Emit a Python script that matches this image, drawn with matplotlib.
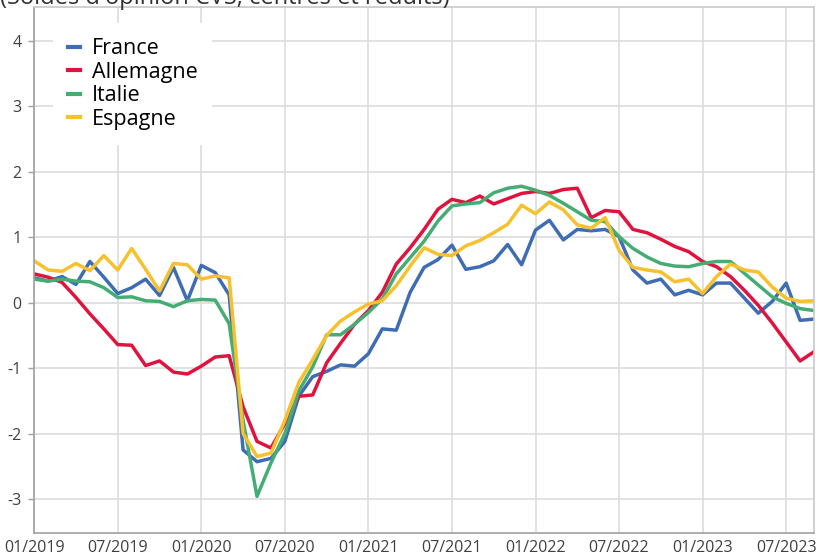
import numpy as np
import matplotlib.pyplot as plt

plt.rcParams['font.family'] = ['Open Sans', 'DejaVu Sans']
plt.rcParams['axes.unicode_minus'] = False

# monthly values, 01/2019 .. 09/2023
france = [0.38, 0.33, 0.40, 0.28, 0.63, 0.39, 0.14, 0.23, 0.36, 0.11, 0.54, 0.03,
          0.57, 0.46, 0.12, -2.25, -2.43, -2.38, -2.12, -1.43, -1.13, -1.05, -0.95, -0.97,
          -0.78, -0.40, -0.42, 0.16, 0.54, 0.66, 0.88, 0.51, 0.55, 0.64, 0.89, 0.58,
          1.11, 1.26, 0.96, 1.12, 1.10, 1.12, 1.01, 0.50, 0.30, 0.36, 0.12, 0.19,
          0.12, 0.30, 0.30, 0.07, -0.16, 0.02, 0.30, -0.27, -0.25]
allemagne = [0.44, 0.39, 0.31, 0.08, -0.17, -0.40, -0.64, -0.65, -0.96, -0.89, -1.06, -1.09,
             -0.97, -0.83, -0.81, -1.59, -2.12, -2.22, -1.85, -1.43, -1.41, -0.92, -0.62, -0.33,
             -0.12, 0.16, 0.59, 0.84, 1.12, 1.43, 1.58, 1.53, 1.63, 1.51, 1.59, 1.67,
             1.70, 1.67, 1.73, 1.75, 1.30, 1.41, 1.39, 1.12, 1.07, 0.97, 0.86, 0.78,
             0.63, 0.55, 0.40, 0.19, -0.04, -0.31, -0.60, -0.89, -0.75]
italie = [0.36, 0.33, 0.36, 0.33, 0.32, 0.23, 0.08, 0.09, 0.03, 0.02, -0.06, 0.03,
          0.05, 0.04, -0.32, -1.80, -2.96, -2.45, -2.00, -1.35, -0.98, -0.49, -0.49, -0.33,
          -0.15, 0.06, 0.44, 0.69, 0.94, 1.25, 1.48, 1.51, 1.53, 1.68, 1.75, 1.78,
          1.72, 1.64, 1.52, 1.39, 1.26, 1.24, 1.01, 0.83, 0.70, 0.60, 0.56, 0.55,
          0.60, 0.63, 0.63, 0.45, 0.27, 0.09, -0.01, -0.09, -0.12]
espagne = [0.64, 0.50, 0.48, 0.60, 0.49, 0.72, 0.50, 0.83, 0.51, 0.18, 0.60, 0.58,
           0.36, 0.41, 0.38, -2.00, -2.35, -2.30, -1.80, -1.22, -0.87, -0.50, -0.28, -0.14,
           -0.02, 0.03, 0.26, 0.56, 0.84, 0.74, 0.72, 0.87, 0.95, 1.07, 1.20, 1.49,
           1.36, 1.54, 1.42, 1.19, 1.14, 1.30, 0.80, 0.54, 0.50, 0.47, 0.32, 0.36,
           0.14, 0.40, 0.59, 0.50, 0.47, 0.24, 0.07, 0.02, 0.03]

tick_labels = ['01/2019', '07/2019', '01/2020', '07/2020', '01/2021',
               '07/2021', '01/2022', '07/2022', '01/2023', '07/2023']

x = np.arange(len(france))

fig = plt.figure(figsize=(8.26, 5.59), dpi=100)
ax = fig.add_axes([34.2 / 826, 26 / 559, (814 - 34.2) / 826, (533 - 7) / 559])

ax.plot(x, france, color='#3f6db3', lw=2.5, label='France')
ax.plot(x, allemagne, color='#e0133f', lw=2.5, label='Allemagne')
ax.plot(x, italie, color='#45ad74', lw=2.5, label='Italie')
ax.plot(x, espagne, color='#f6c12c', lw=2.5, label='Espagne')

ax.set_xlim(0, 56)
ax.set_ylim(-3.52, 4.52)
ax.set_xticks(np.arange(0, 60, 6))
ax.set_xticklabels(tick_labels)
ax.set_yticks([-3, -2, -1, 0, 1, 2, 3, 4])
ax.grid(True, color='#dcdcdc', lw=1.2)
ax.set_axisbelow(True)
for s in ax.spines.values():
    s.set_color('#c8c8c8')
    s.set_linewidth(1.2)
ax.spines['left'].set_color('#a0a0a0')
ax.spines['bottom'].set_color('#a0a0a0')
ax.tick_params(axis='x', length=0, pad=5, labelsize=11.5, labelcolor='#404040')
ax.tick_params(axis='y', length=4, width=1, color='#a0a0a0', pad=5, labelsize=11.5,
               labelcolor='#404040')

leg = ax.legend(loc='upper left', bbox_to_anchor=(0.01, 0.99), fontsize=15.5,
                handlelength=0.55, handletextpad=0.55, labelspacing=0.12,
                borderpad=0.7, frameon=True, facecolor='white', edgecolor='none',
                framealpha=1)
for h in leg.get_lines():
    h.set_linewidth(3)

# title of the original graphic, cut by the top edge as in the source
fig.text(0, 1 - 4 / 559, "(Soldes d'opinion CVS, centrés et réduits)",
         fontsize=17, color='#333333', va='baseline')

fig.savefig('out.png', dpi=100)
